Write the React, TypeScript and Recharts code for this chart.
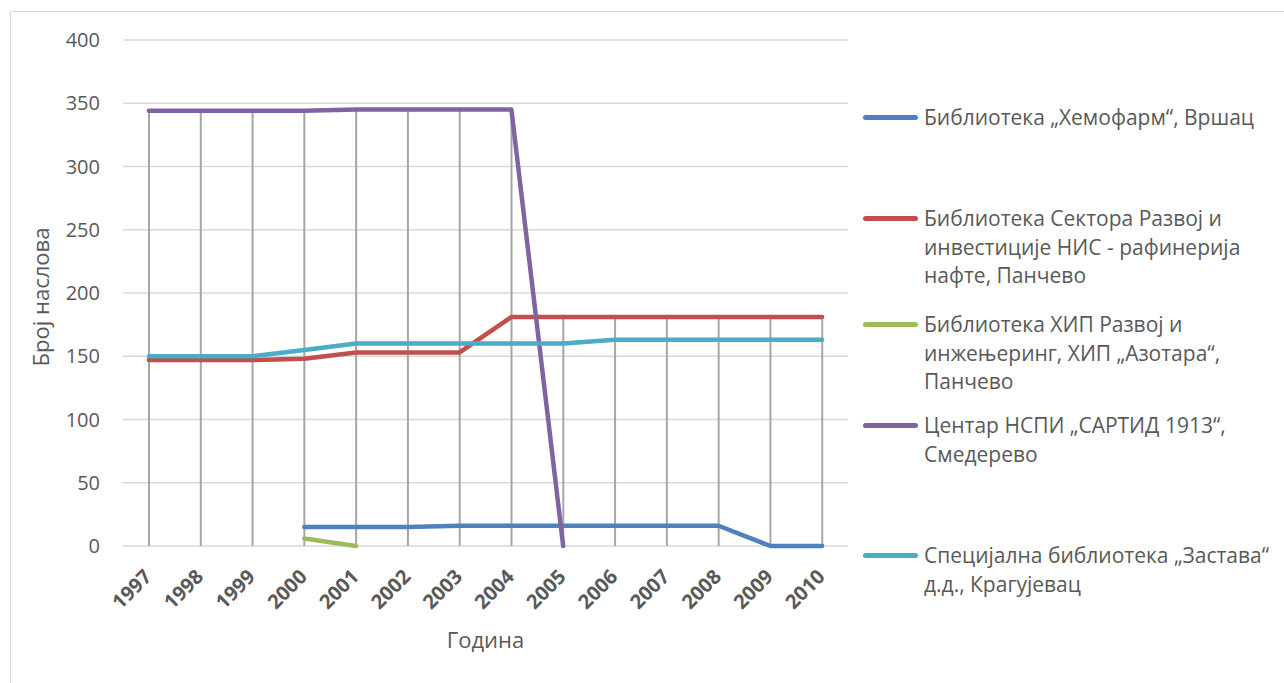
import React from 'react';
import { ComposedChart, Line, Bar, XAxis, YAxis, CartesianGrid, Label } from 'recharts';

const years = ['1997', '1998', '1999', '2000', '2001', '2002', '2003', '2004', '2005', '2006', '2007', '2008', '2009', '2010'];

const hemofarm = [null, null, null, 15, 15, 15, 16, 16, 16, 16, 16, 16, 0, 0];
const nis = [147, 147, 147, 148, 153, 153, 153, 181, 181, 181, 181, 181, 181, 181];
const hip = [null, null, null, 6, 0, null, null, null, null, null, null, null, null, null];
const sartid = [344, 344, 344, 344, 345, 345, 345, 345, 0, null, null, null, null, null];
const zastava = [150, 150, 150, 155, 160, 160, 160, 160, 160, 163, 163, 163, 163, 163];

const yTicks = [0, 50, 100, 150, 200, 250, 300, 350, 400];

const series = [
  { key: 'hemofarm', color: '#4f81bd', lines: ['Библиотека „Хемофарм“, Вршац'], top: 117 },
  { key: 'nis', color: '#c0504d', lines: ['Библиотека Сектора Развој и', 'инвестиције НИС - рафинерија', 'нафте, Панчево'], top: 218 },
  { key: 'hip', color: '#9bbb59', lines: ['Библиотека ХИП Развој и', 'инжењеринг, ХИП „Азотара“,', 'Панчево'], top: 324 },
  { key: 'sartid', color: '#8064a2', lines: ['Центар НСПИ „САРТИД 1913“,', 'Смедерево'], top: 425 },
  { key: 'zastava', color: '#4bacc6', lines: ['Специјална библиотека „Застава“', 'д.д., Крагујевац'], top: 555 },
];

// drop lines go from the highest series value down to the axis
const data = years.map((year, i) => {
  const vals = [hemofarm[i], nis[i], hip[i], sartid[i], zastava[i]].filter((v) => v !== null) as number[];
  return {
    year,
    hemofarm: hemofarm[i],
    nis: nis[i],
    hip: hip[i],
    sartid: sartid[i],
    zastava: zastava[i],
    drop: Math.max(...vals),
  };
});

const font = '"Open Sans", sans-serif';

const XTick = (props: any) => {
  const { x, y, payload } = props;
  return (
    <g transform={`translate(${x + 4},${y + 24})`}>
      <text textAnchor="end" transform="rotate(-45)" fontSize={20} fontWeight="bold" fill="#595959" fontFamily={font}>
        {payload.value}
      </text>
    </g>
  );
};

export default function App() {
  return (
    <div style={{ position: 'absolute', left: 0, top: 0, width: 1284, height: 683, background: '#fff', overflow: 'hidden' }}>
      <div style={{ position: 'absolute', left: 10, top: 11, width: 1300, height: 700, border: '1px solid #d9d9d9' }} />
      <ComposedChart
        width={1284}
        height={683}
        data={data}
        margin={{ top: 40, right: 436, bottom: 77, left: 63 }}
        style={{ position: 'absolute', left: 0, top: 0, fontFamily: font }}
      >
        <CartesianGrid vertical={false} stroke="#d9d9d9" strokeWidth={1.5} />
        <XAxis
          dataKey="year"
          axisLine={false}
          tickLine={false}
          interval={0}
          height={60}
          tick={<XTick />}
        >
          <Label value="Година" position="insideBottom" offset={-42} fontSize={22} fill="#595959" fontFamily={font} />
        </XAxis>
        <YAxis
          domain={[0, 400]}
          ticks={yTicks}
          width={60}
          axisLine={false}
          tickLine={false}
          tickSize={0}
          tickMargin={23}
          tick={{ fontSize: 20, fill: '#595959', fontFamily: font }}
        >
          <Label value="Број наслова" angle={-90} position="center" dx={-52} dy={4} fontSize={22} fill="#595959" fontFamily={font} />
        </YAxis>
        <Bar dataKey="drop" barSize={2} fill="#a6a6a6" isAnimationActive={false} />
        {series.map((s) => (
          <Line
            key={s.key}
            dataKey={s.key}
            type="linear"
            stroke={s.color}
            strokeWidth={4.5}
            strokeLinecap="round"
            strokeLinejoin="round"
            dot={false}
            activeDot={false}
            connectNulls={false}
            isAnimationActive={false}
          />
        ))}
      </ComposedChart>
      {series.map((s) => (
        <div key={s.key} style={{ position: 'absolute', left: 863, top: s.top - 14, fontFamily: font, fontSize: 21, color: '#595959', lineHeight: '28.5px' }}>
          <div style={{ position: 'absolute', left: 0, top: 12, width: 55, height: 5, borderRadius: 3, background: s.color }} />
          <div style={{ position: 'absolute', left: 61, top: 0, whiteSpace: 'nowrap' }}>
            {s.lines.map((l, i) => (
              <div key={i}>{l}</div>
            ))}
          </div>
        </div>
      ))}
    </div>
  );
}
